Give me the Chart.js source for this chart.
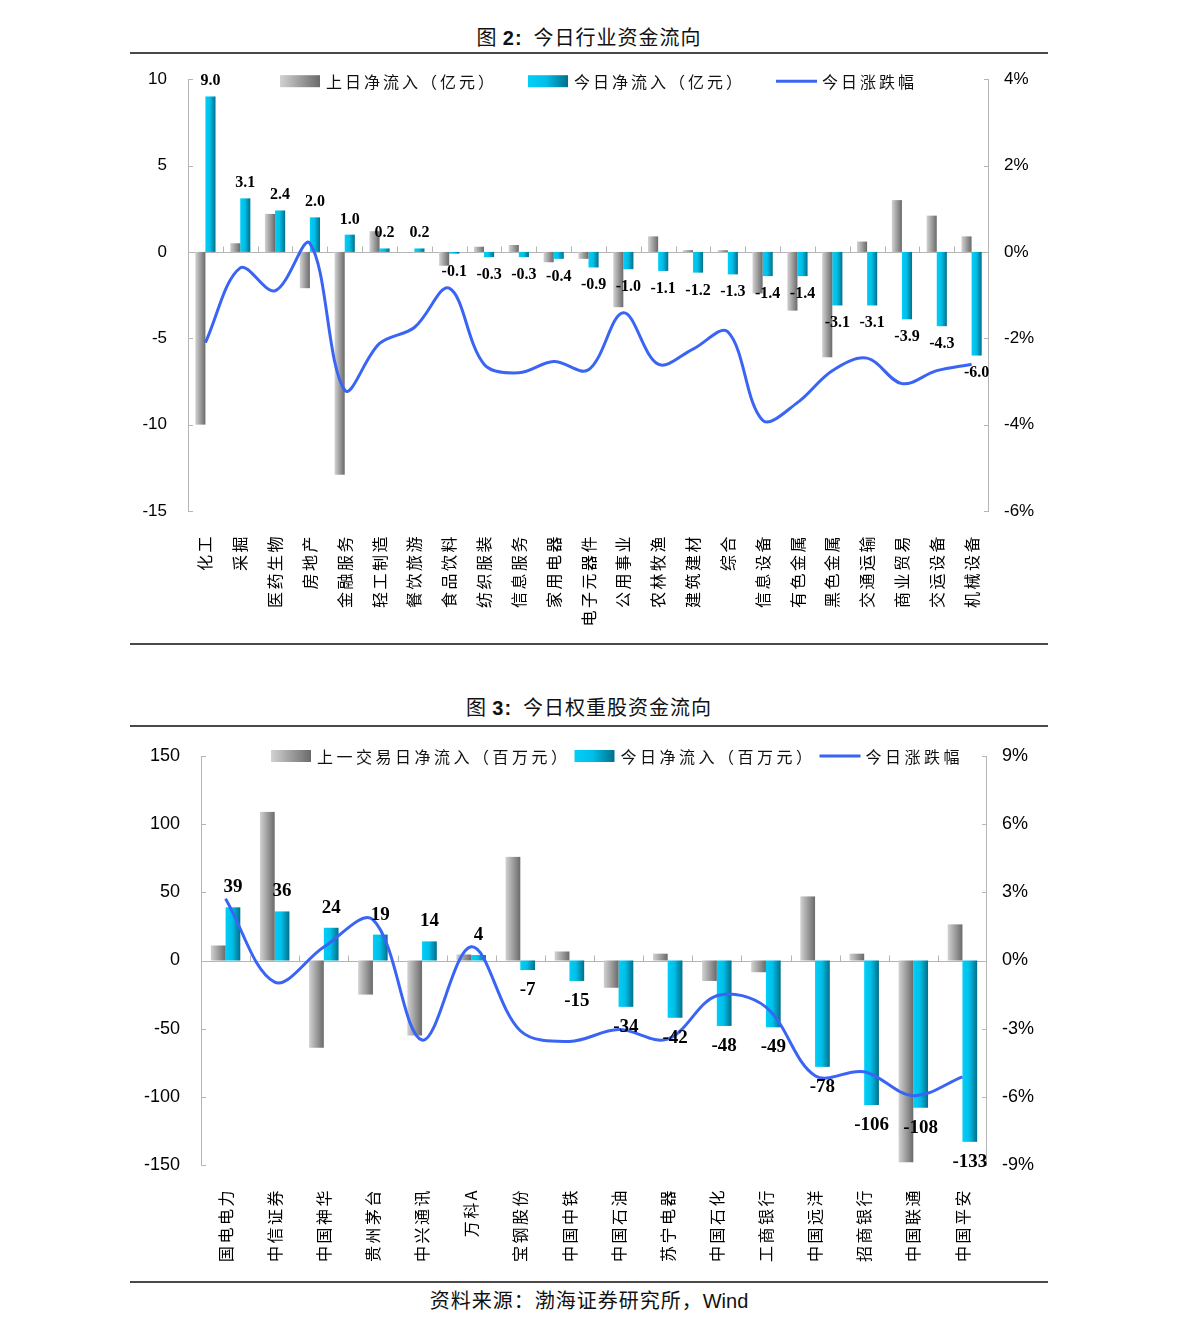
<!DOCTYPE html>
<html>
<head>
<meta charset="utf-8">
<script src="https://cdn.jsdelivr.net/npm/chart.js@4.4.0/dist/chart.umd.min.js"></script>
<style>
  body { margin: 0; background: #fff; font-family: "Noto Sans CJK SC", sans-serif; }
  .page { position: relative; width: 1191px; height: 1332px; }
  .title { position: absolute; left: 130px; width: 918px; text-align: center; font-size: 20px; line-height: 26px; color: #111; letter-spacing: 1px; }
  .title b { font-family: "Liberation Sans", Arial, sans-serif; }
  .rule { position: absolute; left: 130px; width: 918px; height: 2px; background: #4a4a4a; }
  .box { position: absolute; left: 130px; width: 920px; }
  .src { position: absolute; left: 130px; width: 918px; text-align: center; font-size: 20px; line-height: 26px; color: #111; letter-spacing: 1px; }
  .src span { font-family: "Liberation Sans", Arial, sans-serif; letter-spacing: 0; }
</style>
</head>
<body>
<div class="page">
  <div class="title" style="top:24px">图 <b>2:</b>&nbsp; 今日行业资金流向</div>
  <div class="rule" style="top:52px"></div>
  <div class="box" style="top:56px;height:584px"><canvas id="chart1"></canvas></div>
  <div class="rule" style="top:643px"></div>

  <div class="title" style="top:694px">图 <b>3:</b>&nbsp; 今日权重股资金流向</div>
  <div class="rule" style="top:725px"></div>
  <div class="box" style="top:730px;height:550px"><canvas id="chart2"></canvas></div>
  <div class="rule" style="top:1281px"></div>
  <div class="src" style="top:1287px">资料来源：渤海证券研究所，<span>Wind</span></div>
</div>

<script>
// 图2 行业
const sectors = ['化工', '采掘', '医药生物', '房地产', '金融服务', '轻工制造', '餐饮旅游', '食品饮料',
  '纺织服装', '信息服务', '家用电器', '电子元器件', '公用事业', '农林牧渔', '建筑建材', '综合',
  '信息设备', '有色金属', '黑色金属', '交通运输', '商业贸易', '交运设备', '机械设备'];
const sectorPrev = [-10.0, 0.5, 2.2, -2.1, -12.9, 1.2, 0.0, -0.8, 0.3, 0.4, -0.6, -0.4,
  -3.2, 0.9, 0.1, 0.1, -2.4, -3.4, -6.1, 0.6, 3.0, 2.1, 0.9];
const sectorToday = [9.0, 3.1, 2.4, 2.0, 1.0, 0.2, 0.2, -0.1, -0.3, -0.3, -0.4, -0.9,
  -1.0, -1.1, -1.2, -1.3, -1.4, -1.4, -3.1, -3.1, -3.9, -4.3, -6.0];
const sectorChange = [-2.1, -0.37, -0.9, 0.2, -3.2, -2.12, -1.75, -0.84, -2.6, -2.8, -2.54, -2.73,
  -1.41, -2.6, -2.25, -1.85, -3.9, -3.49, -2.75, -2.46, -3.05, -2.75, -2.6];
const sectorLeftTicks = [10, 5, 0, -5, -10, -15];
const sectorRightTicks = [4, 2, 0, -2, -4, -6];
const sectorLegend = ['上日净流入（亿元）', '今日净流入（亿元）', '今日涨跌幅'];

// 图3 权重股
const stocks = ['国电电力', '中信证券', '中国神华', '贵州茅台', '中兴通讯', '万科A', '宝钢股份', '中国中铁',
  '中国石油', '苏宁电器', '中国石化', '工商银行', '中国远洋', '招商银行', '中国联通', '中国平安'];
const stockPrev = [11, 109, -64, -25, -55, 4.4, 76, 6.6, -20, 5, -15, -8.6, 47, 5, -148, 26.5];
const stockToday = [39, 36, 24, 19, 14, 4, -7, -15, -34, -42, -48, -49, -78, -106, -108, -133];
const stockChange = [2.72, -0.95, 0.59, 1.8, -3.5, 0.6, -3.09, -3.56, -3.04, -3.46, -1.55, -2.05,
  -5.07, -4.9, -5.95, -5.12];
const stockLeftTicks = [150, 100, 50, 0, -50, -100, -150];
const stockRightTicks = [9, 6, 3, 0, -3, -6, -9];
const stockLegend = ['上一交易日净流入（百万元）', '今日净流入（百万元）', '今日涨跌幅'];

const GRAY = [[0, '#d2d2d2'], [1, '#6a6a6a']];
const CYAN = [[0, '#00cff8'], [0.45, '#00bfe8'], [1, '#006f8b']];
const BLUE = '#3a64f4';
const CJK = '"Noto Sans CJK SC", sans-serif';

Chart.defaults.font.family = '"Liberation Sans", Arial, sans-serif';
Chart.defaults.color = '#000';

function fillGrad(ctx, stops, x0, x1) {
  const g = ctx.createLinearGradient(x0, 0, x1, 0);
  stops.forEach(s => g.addColorStop(s[0], s[1]));
  return g;
}

const deco = {
  id: 'deco',
  beforeDatasetsDraw(chart) {
    const { ctx, chartArea: a, scales } = chart;
    const y = scales.y, y1 = scales.y1, x = scales.x;
    ctx.save();
    ctx.strokeStyle = '#b5b5b5';
    ctx.lineWidth = 1;
    ctx.beginPath();
    ctx.moveTo(a.left + 0.5, a.top); ctx.lineTo(a.left + 0.5, a.bottom);
    ctx.moveTo(a.right - 0.5, a.top); ctx.lineTo(a.right - 0.5, a.bottom);
    y.ticks.forEach(t => {
      const py = Math.round(y.getPixelForValue(t.value)) + 0.5;
      ctx.moveTo(a.left, py); ctx.lineTo(a.left + 5, py);
    });
    y1.ticks.forEach(t => {
      const py = Math.round(y1.getPixelForValue(t.value)) + 0.5;
      ctx.moveTo(a.right - 5, py); ctx.lineTo(a.right, py);
    });
    const zy = Math.round(y.getPixelForValue(0)) + 0.5;
    ctx.moveTo(a.left, zy); ctx.lineTo(a.right, zy);
    const n = chart.data.labels.length;
    for (let i = 1; i < n; i++) {
      const bx = Math.round((x.getPixelForValue(i - 1) + x.getPixelForValue(i)) / 2) + 0.5;
      ctx.moveTo(bx, zy); ctx.lineTo(bx, zy - 6);
    }
    ctx.stroke();
    ctx.restore();
  },
  beforeDatasetDraw(chart, args) {
    const ds = chart.data.datasets[args.index];
    if (ds.type !== 'bar') return;
    const ctx = chart.ctx;
    ctx.save();
    args.meta.data.forEach(el => {
      const p = el.getProps(['x', 'y', 'base', 'width'], true);
      const x0 = p.x - p.width / 2;
      ctx.fillStyle = fillGrad(ctx, ds.grad, x0, x0 + p.width);
      ctx.fillRect(x0, Math.min(p.y, p.base), p.width, Math.abs(p.base - p.y));
    });
    ctx.restore();
    return false;
  },
  afterDraw(chart) {
    const o = chart.options.plugins.deco;
    const { ctx, chartArea: a, scales } = chart;
    ctx.save();

    // value labels on today's bars
    const meta = chart.getDatasetMeta(1);
    const vals = chart.data.datasets[1].data;
    ctx.font = 'bold ' + o.valueSize + 'px "Liberation Serif", "Times New Roman", serif';
    ctx.fillStyle = '#000';
    ctx.textAlign = 'center';
    ctx.textBaseline = 'alphabetic';
    meta.data.forEach((el, i) => {
      const v = vals[i];
      const p = el.getProps(['x', 'y'], true);
      const txt = v.toFixed(o.digits);
      const ty = v >= 0 ? p.y - o.posGap : p.y + o.negGap + o.valueSize * 0.68;
      ctx.fillText(txt, p.x, ty);
    });

    // category labels, rotated
    ctx.font = o.catSize + 'px ' + CJK;
    ctx.letterSpacing = o.catSpacing + 'px';
    ctx.textAlign = 'right';
    ctx.textBaseline = 'middle';
    chart.data.labels.forEach((lab, i) => {
      const px = scales.x.getPixelForValue(i);
      ctx.save();
      ctx.translate(px, a.bottom + o.catTop);
      ctx.rotate(-Math.PI / 2);
      ctx.fillText(lab, 0, 0);
      ctx.restore();
    });

    // legend
    ctx.font = o.legendSize + 'px ' + CJK;
    ctx.letterSpacing = o.legendSpacing + 'px';
    ctx.textAlign = 'left';
    ctx.fillStyle = '#111';
    let lx = a.left + o.legendStart;
    const ly = a.top + o.legendDy;
    chart.data.datasets.forEach(ds => {
      if (ds.type === 'bar') {
        ctx.fillStyle = fillGrad(ctx, ds.grad, lx, lx + 40);
        ctx.fillRect(lx, ly - 6, 40, 12);
      } else {
        ctx.strokeStyle = ds.borderColor;
        ctx.lineWidth = 3;
        ctx.beginPath();
        ctx.moveTo(lx, ly); ctx.lineTo(lx + 41, ly);
        ctx.stroke();
      }
      lx += 46;
      ctx.fillStyle = '#111';
      ctx.fillText(ds.label, lx, ly + 1);
      lx += ctx.measureText(ds.label).width + o.legendGap;
    });
    ctx.restore();
  }
};

function buildChart(id, cats, prev, today, change, leftTicks, rightTicks, names, o) {
  const stepOf = t => Math.abs(t[0] - t[1]);
  return new Chart(document.getElementById(id), {
    type: 'bar',
    data: {
      labels: cats,
      datasets: [
        { type: 'bar', label: names[0], data: prev, yAxisID: 'y', grad: GRAY, order: 1,
          categoryPercentage: o.catPct, barPercentage: 1, backgroundColor: '#999' },
        { type: 'bar', label: names[1], data: today, yAxisID: 'y', grad: CYAN, order: 1,
          categoryPercentage: o.catPct, barPercentage: 1, backgroundColor: '#0bf' },
        { type: 'line', label: names[2], data: change, yAxisID: 'y1', borderColor: BLUE,
          borderWidth: 3, pointRadius: 0, tension: 0.35, fill: false, order: 0 }
      ]
    },
    options: {
      responsive: true,
      maintainAspectRatio: false,
      animation: false,
      events: [],
      layout: { padding: { top: o.padTop, left: 0, right: 0, bottom: 0 } },
      plugins: { legend: { display: false }, tooltip: { enabled: false }, deco: o },
      scales: {
        x: {
          grid: { display: false }, border: { display: false }, ticks: { display: false },
          afterFit(s) { s.height = o.xHeight; }
        },
        y: {
          position: 'left',
          min: Math.min(...leftTicks), max: Math.max(...leftTicks),
          grid: { display: false }, border: { display: false },
          ticks: { stepSize: stepOf(leftTicks), padding: o.leftPad, font: { size: o.tickSize }, color: '#000' },
          afterFit(s) { s.width = o.leftW; }
        },
        y1: {
          position: 'right',
          min: Math.min(...rightTicks), max: Math.max(...rightTicks),
          grid: { display: false }, border: { display: false },
          ticks: { stepSize: stepOf(rightTicks), padding: o.rightPad, font: { size: o.tickSize }, color: '#000',
            callback: v => v + '%' },
          afterFit(s) { s.width = o.rightW; }
        }
      }
    },
    plugins: [deco]
  });
}

buildChart('chart1', sectors, sectorPrev, sectorToday, sectorChange, sectorLeftTicks, sectorRightTicks, sectorLegend, {
  catPct: 0.58, padTop: 12, xHeight: 129, leftW: 58, rightW: 61, leftPad: 13, rightPad: 7, tickSize: 17,
  valueSize: 16, digits: 1, posGap: 11, negGap: 11,
  catSize: 16, catSpacing: 2.5, catTop: 23,
  legendSize: 16, legendSpacing: 3, legendStart: 92, legendDy: 2, legendGap: 31
});

buildChart('chart2', stocks, stockPrev, stockToday, stockChange, stockLeftTicks, stockRightTicks, stockLegend, {
  catPct: 0.6, padTop: 26, xHeight: 115, leftW: 71, rightW: 63, leftPad: 13, rightPad: 7, tickSize: 18,
  valueSize: 19, digits: 0, posGap: 15, negGap: 12,
  catSize: 16, catSpacing: 2.5, catTop: 23,
  legendSize: 16, legendSpacing: 3.5, legendStart: 70, legendDy: 0, legendGap: 4
});
</script>
</body>
</html>
